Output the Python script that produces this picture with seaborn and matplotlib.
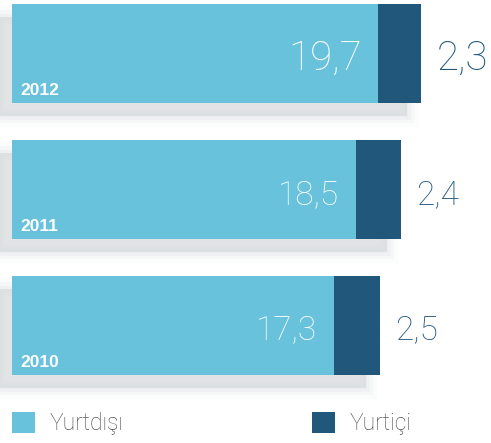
import matplotlib
matplotlib.use("Agg")
import matplotlib.pyplot as plt
import matplotlib.patheffects as pe
import seaborn as sns
import pandas as pd

years = ["2012", "2011", "2010"]
yurtdisi = [19.7, 18.5, 17.3]
yurtici = [2.3, 2.4, 2.5]
labels_dis = ["19,7", "18,5", "17,3"]
labels_ici = ["2,3", "2,4", "2,5"]

LIGHT = "#69C2DB"
DARK = "#20577B"
SHADOW = "#d6d9dc"

df = pd.DataFrame({"Yıl": years, "Yurtdışı": yurtdisi, "Yurtiçi": yurtici})
df["Toplam"] = df["Yurtdışı"] + df["Yurtiçi"]

sns.set_theme(style="white")
plt.rcParams["font.family"] = ["Roboto", "DejaVu Sans"]

W, H = 491, 443
fig = plt.figure(figsize=(W / 100, H / 100), dpi=100)
ax = fig.add_axes([0, 0, 1, 1])

BW = 0.728
sns.barplot(data=df, y="Yıl", x="Toplam", order=years, orient="h", color=DARK,
            saturation=1, width=BW, errorbar=None, linewidth=0, label="Yurtiçi", ax=ax)
sns.barplot(data=df, y="Yıl", x="Yurtdışı", order=years, orient="h", color=LIGHT,
            saturation=1, width=BW, errorbar=None, linewidth=0, label="Yurtdışı", ax=ax)

scale = 18.6  # px per unit
ax.set_xlim(-12 / scale, (W - 12) / scale)
ax.set_ylim((H - 53.5) / 136, -53.5 / 136)
ax.axis("off")

# legend
handles, labs = ax.get_legend_handles_labels()
order = [labs.index("Yurtdışı"), labs.index("Yurtiçi")]
leg = ax.legend([handles[i] for i in order], [labs[i] for i in order],
                ncol=2, loc="upper left", bbox_to_anchor=(12 / W, 1 - 412 / H),
                frameon=False, fontsize=16.5, handlelength=1.0, handleheight=1.0,
                handletextpad=0.65, columnspacing=8.2, borderpad=0, borderaxespad=0)
for t in leg.get_texts():
    t.set_color("#555555")
    t.set_fontweight("light")

# soft shadow on the full bars
off = (-10.0, -9.5)
effects = [
    pe.SimplePatchShadow(offset=off, shadow_rgbFace=SHADOW, alpha=0.08, linewidth=16, foreground=SHADOW),
    pe.SimplePatchShadow(offset=off, shadow_rgbFace=SHADOW, alpha=0.12, linewidth=10, foreground=SHADOW),
    pe.SimplePatchShadow(offset=off, shadow_rgbFace=SHADOW, alpha=0.2, linewidth=5, foreground=SHADOW),
    pe.SimplePatchShadow(offset=off, shadow_rgbFace=SHADOW, alpha=0.5),
    pe.Normal(),
]
n = len(years)
for p in ax.patches[:n]:
    p.set_path_effects(effects)

big = [29, 24, 24]
base = [23.8, 25.2, 25.9]
for i in range(n):
    ax.annotate(labels_dis[i], xy=(yurtdisi[i], i + BW / 2), xytext=(-12, base[i]),
                textcoords="offset points", ha="right", va="baseline", color="white",
                fontsize=big[i], fontweight="light")
    ax.annotate(labels_ici[i], xy=(yurtdisi[i] + yurtici[i], i + BW / 2), xytext=(11, base[i]),
                textcoords="offset points", ha="left", va="baseline", color=DARK,
                fontsize=big[i], fontweight="light")
    ax.annotate(years[i], xy=(0, i + BW / 2), xytext=(5.8, 5.8), textcoords="offset points",
                ha="left", va="baseline", color="white", fontsize=12.5, fontweight="bold",
                family=["Liberation Sans", "DejaVu Sans"])

fig.savefig("out.png", dpi=100)
